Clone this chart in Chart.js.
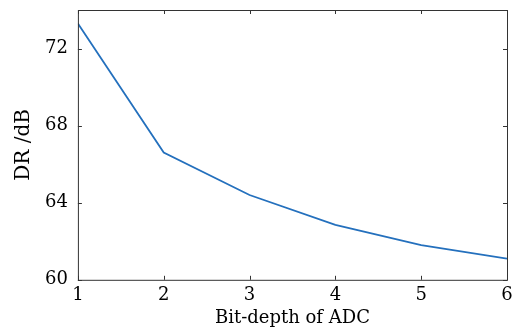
<!DOCTYPE html>
<html>
<head>
<meta charset="utf-8">
<script src="https://cdn.jsdelivr.net/npm/chart.js@4"></script>
<style>
  html, body { margin: 0; padding: 0; background: #fff; }
  #wrap { width: 520px; height: 331px; }
</style>
</head>
<body>
<div id="wrap"><canvas id="chart"></canvas></div>
<script>
var bitDepth = [1, 2, 3, 4, 5, 6];
var dynamicRange = [73.3, 66.6, 64.4, 62.85, 61.8, 61.1];
var yTicks = [60, 64, 68, 72];
var xTicks = [1, 2, 3, 4, 5, 6];

var FONT = "'DejaVu Serif', 'Liberation Serif', serif";

// box round the plot and short inward tick marks
var frame = {
  id: 'frame',
  afterDraw: function(chart) {
    var ctx = chart.ctx, a = chart.chartArea;
    var xs = chart.scales.x, ys = chart.scales.y;
    ctx.save();
    ctx.strokeStyle = '#333';
    ctx.lineWidth = 1;
    ctx.strokeRect(a.left + 0.5, a.top + 0.5, a.right - a.left, a.bottom - a.top);
    ctx.beginPath();
    xTicks.forEach(function(v) {
      var px = Math.round(xs.getPixelForValue(v)) + 0.5;
      ctx.moveTo(px, a.bottom); ctx.lineTo(px, a.bottom - 4);
      ctx.moveTo(px, a.top); ctx.lineTo(px, a.top + 4);
    });
    yTicks.forEach(function(v) {
      var py = Math.round(ys.getPixelForValue(v)) + 0.5;
      ctx.moveTo(a.left, py); ctx.lineTo(a.left + 4, py);
      ctx.moveTo(a.right, py); ctx.lineTo(a.right - 4, py);
    });
    ctx.stroke();
    ctx.restore();
  }
};

new Chart(document.getElementById('chart'), {
  type: 'line',
  data: {
    datasets: [{
      data: bitDepth.map(function(x, i) { return { x: x, y: dynamicRange[i] }; }),
      borderColor: '#2470bd',
      borderWidth: 1.8,
      pointRadius: 0,
      fill: false,
      tension: 0
    }]
  },
  options: {
    responsive: true,
    maintainAspectRatio: false,
    animation: false,
    layout: { padding: { top: 10, right: 13, left: 11, bottom: 2 } },
    plugins: { legend: { display: false }, tooltip: { enabled: false } },
    scales: {
      x: {
        type: 'linear',
        min: 1, max: 6,
        afterBuildTicks: function(s) { s.ticks = xTicks.map(function(v) { return { value: v }; }); },
        grid: { display: false, drawTicks: false },
        border: { display: false },
        ticks: { color: '#000', padding: 5, maxRotation: 0, font: { family: FONT, size: 18 } },
        title: { display: true, text: 'Bit-depth of ADC', color: '#000', padding: { top: -4, bottom: 0 }, font: { family: FONT, size: 18 } }
      },
      y: {
        min: 60, max: 74,
        afterBuildTicks: function(s) { s.ticks = yTicks.map(function(v) { return { value: v }; }); },
        afterFit: function(s) { s.paddingTop = 0; s.paddingBottom = 0; },
        grid: { display: false, drawTicks: false },
        border: { display: false },
        ticks: { color: '#000', padding: 10, font: { family: FONT, size: 18 } },
        title: { display: true, text: 'DR /dB', color: '#000', padding: { top: 1, bottom: -1 }, font: { family: FONT, size: 20 } }
      }
    }
  },
  plugins: [frame]
});
</script>
</body>
</html>
